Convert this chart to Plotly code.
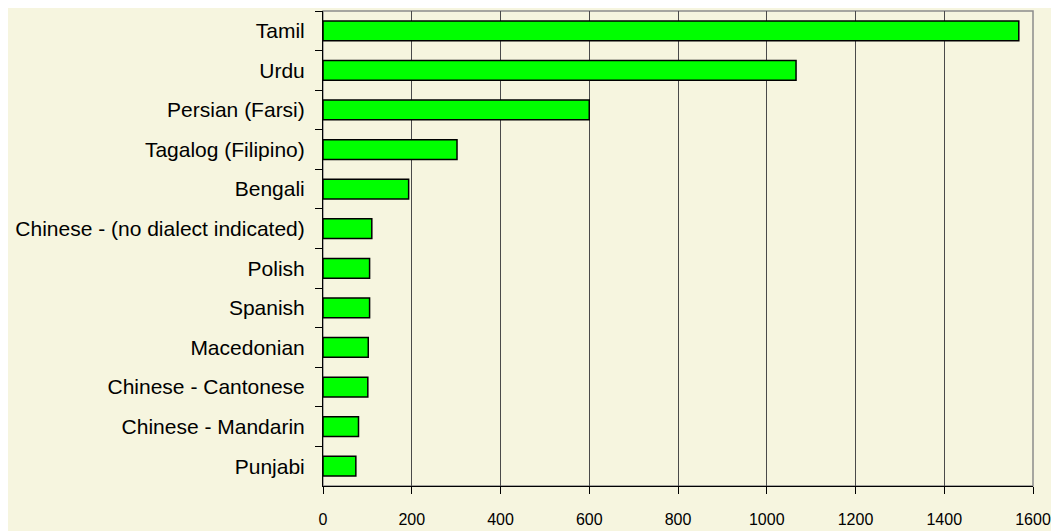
import plotly.graph_objects as go

languages = ["Tamil", "Urdu", "Persian (Farsi)", "Tagalog (Filipino)", "Bengali",
             "Chinese - (no dialect indicated)", "Polish", "Spanish", "Macedonian",
             "Chinese - Cantonese", "Chinese - Mandarin", "Punjabi"]
counts = [1568, 1066, 600, 302, 193, 110, 105, 105, 102, 101, 80, 74]
x_ticks = [0, 200, 400, 600, 800, 1000, 1200, 1400, 1600]

bg = "#F6F5DF"

fig = go.Figure(go.Bar(
    x=counts, y=languages, orientation="h",
    marker=dict(color="#00FF00", line=dict(color="black", width=1.5)),
    width=0.5,
))

# page body has an 8px default margin, so the figure is sized to fit the rest
fig.update_layout(
    width=1051, height=523,
    margin=dict(l=315, r=26, t=3, b=45, autoexpand=False),
    paper_bgcolor=bg, plot_bgcolor=bg,
    font=dict(family="Arial, Liberation Sans, sans-serif", color="black"),
    showlegend=False,
    shapes=[dict(type="rect", xref="paper", yref="paper", x0=0, x1=1, y0=0, y1=1,
                 line=dict(color="#8c8c8c", width=1.5), layer="below")],
)
fig.update_xaxes(
    range=[0, 1600], tickvals=x_ticks, ticktext=[str(v) for v in x_ticks],
    showgrid=True, gridcolor="#4a4a4a", gridwidth=1.2,
    showline=True, linecolor="black", linewidth=1,
    ticks="outside", ticklen=7, tickcolor="black",
    tickfont=dict(size=16), ticklabelstandoff=12, zeroline=False, automargin=False,
)
fig.update_yaxes(
    autorange="reversed", categoryorder="array", categoryarray=languages,
    showline=True, linecolor="black", linewidth=1,
    ticks="outside", ticklen=7, tickcolor="black", tickson="boundaries",
    tickfont=dict(size=21), ticklabelstandoff=13, showgrid=False, automargin=False,
)

fig.write_html("out.html")
